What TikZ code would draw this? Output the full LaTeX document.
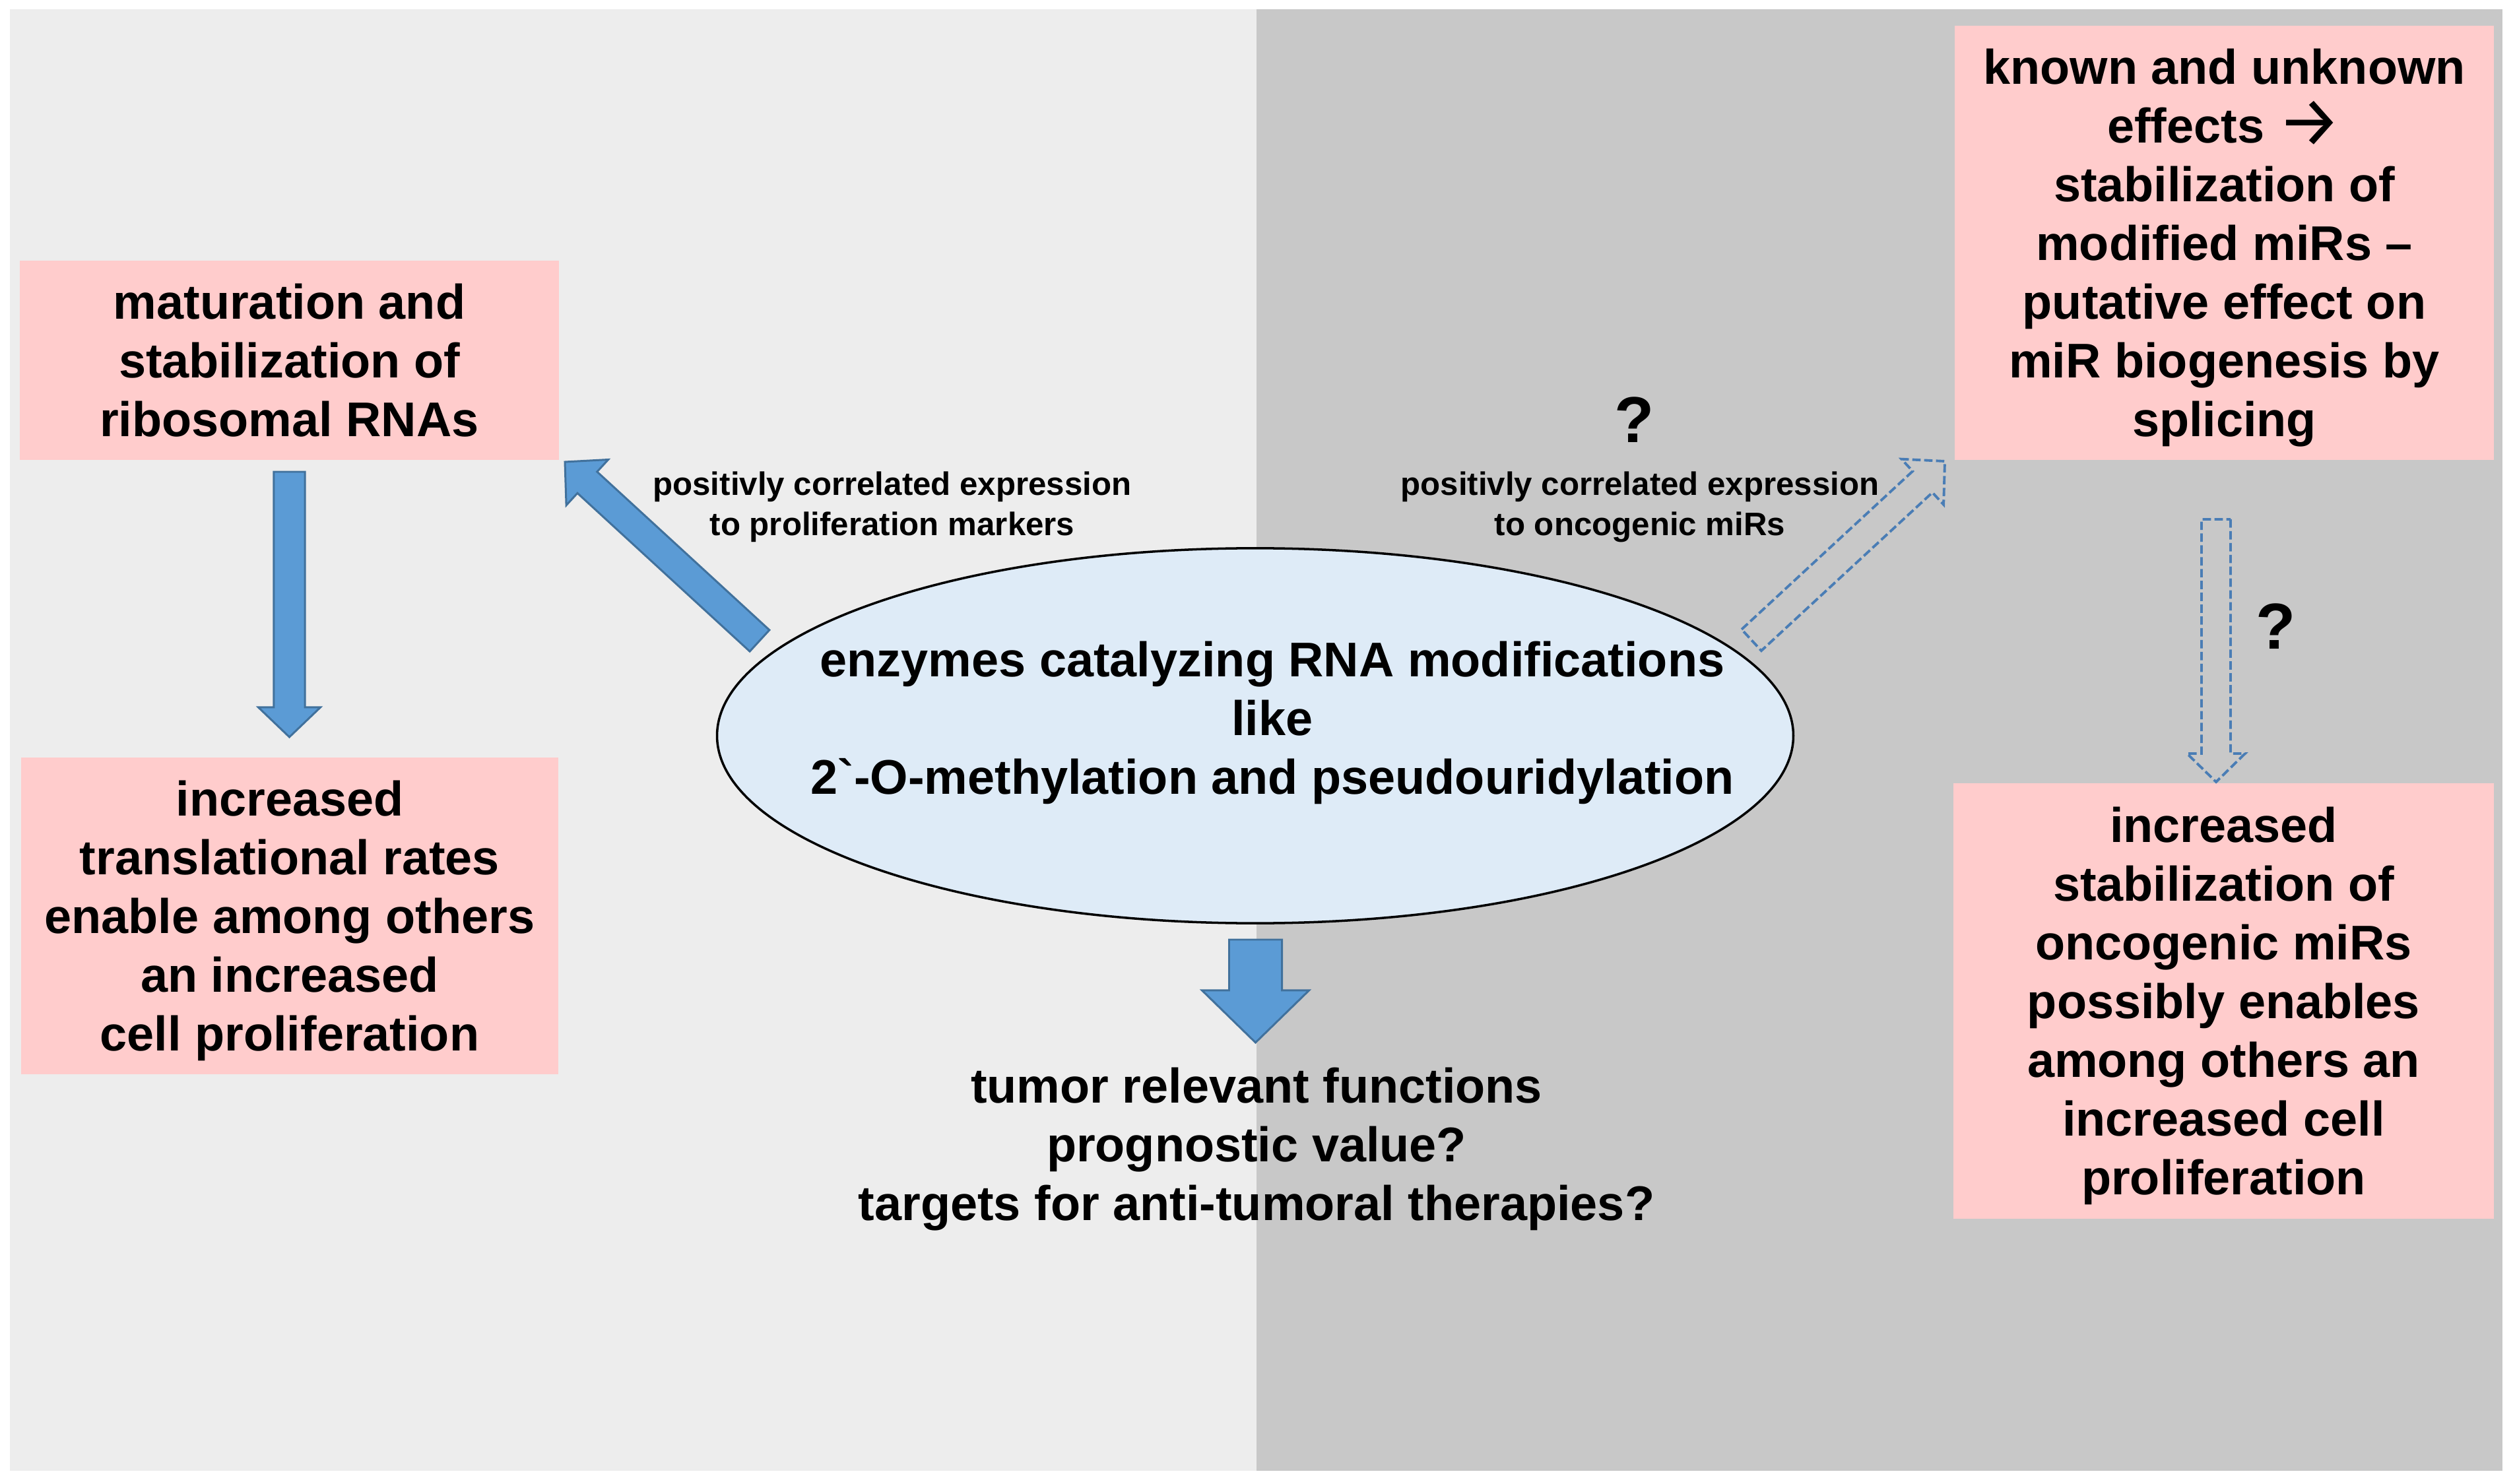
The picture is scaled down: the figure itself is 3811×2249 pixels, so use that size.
\documentclass[tikz,border=0pt]{standalone}
\usepackage{fontspec}
\setmainfont{Liberation Sans}
\newfontfamily\arrowfont{Fira Sans}
\usetikzlibrary{calc,shapes.geometric}
\definecolor{bgL}{HTML}{EDEDED}
\definecolor{bgR}{HTML}{C8C8C8}
\definecolor{pinkbox}{HTML}{FFCCCC}
\definecolor{ellfill}{HTML}{DEEBF7}
\definecolor{arrfill}{HTML}{5B9BD5}
\definecolor{arrline}{HTML}{41719C}
\definecolor{dashline}{HTML}{4A7DB5}
\newcommand{\blockarrow}[6]{%
  \coordinate (#2-#3-h) at ($(#3)!#6!(#2)$);
  \draw[#1] ($(#2)!#4!90:(#3)$) -- ($(#2-#3-h)!#4!90:(#3)$) -- ($(#2-#3-h)!#5!90:(#3)$) -- (#3)
     -- ($(#2-#3-h)!#5!-90:(#3)$) -- ($(#2-#3-h)!#4!-90:(#3)$) -- ($(#2)!#4!-90:(#3)$) -- cycle;
}
\newcommand{\toparrow}{\rule{0pt}{0.93em}}
\newcommand{\rarr}{\raisebox{-0.07em}{\scalebox{1.45}{\arrowfont\mdseries →}}}
\begin{document}
\begin{tikzpicture}[x=0.01cm,y=-0.01cm,
  pbox/.style={fill=pinkbox, inner sep=0pt, align=center, font=\bfseries\fontsize{21}{25.3}\selectfont},
  bigtext/.style={inner sep=0pt, align=center, font=\bfseries\fontsize{21}{25.3}\selectfont},
  smalltext/.style={inner sep=0pt, align=center, font=\bfseries\fontsize{14}{17.4}\selectfont},
  qmark/.style={inner sep=0pt, font=\bfseries\fontsize{28}{32}\selectfont},
  solidarr/.style={fill=arrfill, draw=arrline, line width=0.85pt, line join=miter},
  dasharr/.style={draw=dashline, line width=1.1pt, dash pattern=on 3.6pt off 1.5pt}]
\useasboundingbox (0,0) rectangle (3811,2249);
\fill[white] (0,0) rectangle (3811,2249);
\fill[bgL] (15,14) rectangle (1904,2229);
\fill[bgR] (1904,14) rectangle (3792,2229);

% boxes
\node[pbox, minimum width=8.17cm, minimum height=3.02cm] (mat) at (438.5,546)
  {maturation and\\stabilization of\\ribosomal RNAs};
\node[pbox, minimum width=8.14cm, minimum height=4.80cm] (inc) at (439,1388)
  {\toparrow increased\\translational rates\\enable among others\\an increased\\cell proliferation};
\node[pbox, minimum width=8.17cm, minimum height=6.58cm] (known) at (3370.5,368)
  {\toparrow known and unknown\\effects \rarr\\stabilization of\\modified miRs –\\putative effect on\\miR biogenesis by\\splicing};
\node[pbox, minimum width=8.19cm, minimum height=6.60cm] (stab) at (3369.5,1517)
  {\toparrow increased\\stabilization of\\oncogenic miRs\\possibly enables\\among others an\\increased cell\\proliferation};

% ellipse
\node[ellipse, draw=black, line width=1pt, fill=ellfill, minimum width=16.30cm, minimum height=5.68cm, inner sep=0pt] (enz) at (1902,1115) {};
\node[bigtext] (enzt) at (1928,1095)
  {enzymes catalyzing RNA modifications\\like\\2\XeTeXglyph\XeTeXcharglyph96 -O-methylation and pseudouridylation};

% labels
\node[smalltext] (lab1) at (1352,768) {positivly correlated expression\\to proliferation markers};
\node[smalltext] (lab2) at (2485,768) {positivly correlated expression\\to oncogenic miRs};
\node[qmark] (q1) at (2477,636) {?};
\node[qmark] (q2) at (3449,949) {?};
\node[bigtext] (tum) at (1904,1742)
  {tumor relevant functions\\prognostic value?\\targets for anti-tumoral therapies?};

% arrows
\coordinate (a1s) at (1151,971);   \coordinate (a1e) at (856,700);
\coordinate (a2s) at (438.5,715);  \coordinate (a2e) at (438.5,1117);
\coordinate (a3s) at (1902.5,1424);\coordinate (a3e) at (1902.5,1580);
\coordinate (a4s) at (2654,970);   \coordinate (a4e) at (2947,699);
\coordinate (a5s) at (3358,787);   \coordinate (a5e) at (3358,1185);
\blockarrow{solidarr}{a1s}{a1e}{0.22cm}{0.47cm}{0.46cm}
\blockarrow{solidarr}{a2s}{a2e}{0.235cm}{0.47cm}{0.45cm}
\blockarrow{solidarr}{a3s}{a3e}{0.40cm}{0.81cm}{0.79cm}
\blockarrow{dasharr}{a4s}{a4e}{0.22cm}{0.47cm}{0.46cm}
\blockarrow{dasharr}{a5s}{a5e}{0.22cm}{0.44cm}{0.43cm}
\end{tikzpicture}
\end{document}
